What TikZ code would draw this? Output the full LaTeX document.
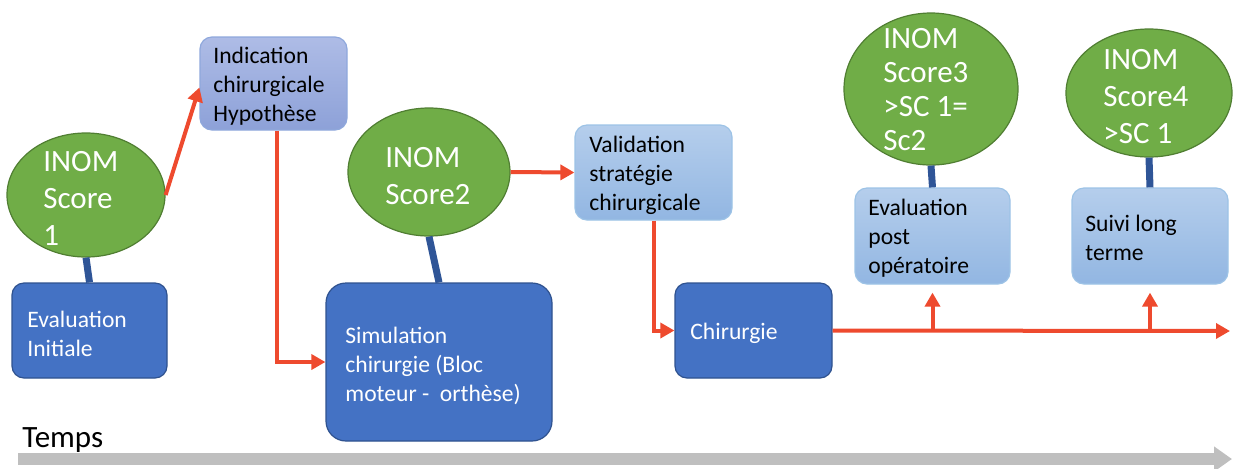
\documentclass[tikz,border=0pt]{standalone}
\usepackage{fontspec}
\setmainfont{Carlito}
\usetikzlibrary{arrows.meta,shapes.geometric}
\definecolor{gfill}{HTML}{70AD47}
\definecolor{gdraw}{HTML}{507E32}
\definecolor{dblue}{HTML}{4472C4}
\definecolor{dbluedraw}{HTML}{2F528F}
\definecolor{cblue}{HTML}{2F5597}
\definecolor{redc}{HTML}{EE4A2E}
\definecolor{lavtop}{HTML}{AEBCE6}
\definecolor{lavbot}{HTML}{8DA1D8}
\definecolor{lavdraw}{HTML}{8FA8DC}
\definecolor{lbtop}{HTML}{B5CEEC}
\definecolor{lbbot}{HTML}{92B6E2}
\definecolor{lbdraw}{HTML}{9DC3E6}
\definecolor{greyc}{HTML}{BFBFBF}
\tikzset{
  scoreell/.style={ellipse,draw=gdraw,line width=0.6pt,fill=gfill,inner sep=0pt},
  darkbox/.style={rectangle,rounded corners=6pt,draw=dbluedraw,line width=0.6pt,fill=dblue,inner sep=0pt},
  lavbox/.style={rectangle,rounded corners=6pt,draw=lavdraw,line width=0.6pt,top color=lavtop,bottom color=lavbot,inner sep=0pt},
  lightbox/.style={rectangle,rounded corners=6pt,draw=lbdraw,line width=0.6pt,top color=lbtop,bottom color=lbbot,inner sep=0pt},
  elltext/.style={anchor=west,inner sep=0pt,align=left,text=white,font=\fontsize{15.5pt}{18.5pt}\selectfont},
  boxtextw/.style={anchor=west,inner sep=0pt,align=left,text=white,font=\fontsize{11.8pt}{14.5pt}\selectfont},
  boxtextb/.style={anchor=west,inner sep=0pt,align=left,text=black,font=\fontsize{11.8pt}{14.5pt}\selectfont},
  redarrow/.style={draw=redc,line width=2pt,-{Triangle[length=7pt,width=7.5pt]}},
  blueconn/.style={draw=cblue,line width=3.5pt},
}
\begin{document}
\begin{tikzpicture}[x=0.5pt,y=-0.5pt]
\useasboundingbox (0,0) rectangle (1233,468);
% ellipses
\node[scoreell,minimum width=79pt,minimum height=62pt] (e1) at (86,195) {};
\node[scoreell,minimum width=81pt,minimum height=64pt] (e2) at (429,172) {};
\node[scoreell,minimum width=87pt,minimum height=76pt] (e3) at (931,89) {};
\node[scoreell,minimum width=83pt,minimum height=64pt] (e4) at (1149,93) {};
% boxes
\node[darkbox,minimum width=77.5pt,minimum height=47.5pt] (b1) at (89.5,330.5) {};
\node[lavbox,minimum width=73.5pt,minimum height=46.5pt] (ind) at (273.5,83.5) {};
\node[darkbox,rounded corners=10pt,minimum width=113pt,minimum height=79pt] (sim) at (439,362) {};
\node[lightbox,minimum width=78.5pt,minimum height=47.5pt] (val) at (653.5,172.5) {};
\node[darkbox,minimum width=78.5pt,minimum height=47.5pt] (chir) at (753.5,330.5) {};
\node[lightbox,minimum width=77.5pt,minimum height=48pt] (post) at (932.5,236) {};
\node[lightbox,minimum width=78pt,minimum height=48pt] (suivi) at (1150,236) {};
% texts
\node[elltext] (te1) at (43,198) {INOM\\Score\\1};
\node[elltext] (te2) at (385,176) {INOM\\Score2};
\node[elltext,font=\fontsize{15.5pt}{17pt}\selectfont] (te3) at (883,90) {INOM\\Score3\\>SC 1=\\Sc2};
\node[elltext] (te4) at (1103,97) {INOM\\Score4\\>SC 1};
\node[boxtextw] (tb1) at (27,334) {Evaluation\\Initiale};
\node[boxtextb] (tind) at (213,86) {Indication\\chirurgicale\\Hypothèse};
\node[boxtextw] (tsim) at (345,366) {Simulation\\chirurgie (Bloc\\moteur -~ orthèse)};
\node[boxtextb] (tval) at (589,175) {Validation\\stratégie\\chirurgicale};
\node[boxtextw] (tchir) at (690,333) {Chirurgie};
\node[boxtextb] (tpost) at (868,238) {Evaluation\\post\\opératoire};
\node[boxtextb] (tsuivi) at (1085,238) {Suivi long\\terme};
\node[anchor=west,inner sep=0pt,font=\fontsize{15.5pt}{17pt}\selectfont] (temps) at (22,440) {Temps};
% blue connectors
\draw[blueconn] (e1.south) -- (b1.north);
\draw[blueconn] (e2.south) -- (sim.north);
\draw[blueconn] (e3.south) -- (post.north);
\draw[blueconn] (e4.south) -- (suivi.north);
% red connectors
\draw[redarrow] (e1.east) -- ([yshift=-2pt]ind.west);
\draw[redarrow] ([xshift=1.5pt]ind.south) |- (sim.west);
\draw[redarrow] (e2.east) -- (val.west);
\draw[redarrow] (val.south) |- (chir.west);
\coordinate (tend) at (1230,331);
\draw[redarrow] (chir.east) -- (tend);
\draw[redarrow] (post.south |- chir.east) -- ([yshift=-4pt]post.south);
\draw[redarrow] (suivi.south |- chir.east) -- ([yshift=-4pt]suivi.south);
% time arrow
\coordinate (t0) at (18,459);
\coordinate (t1) at (1232,459);
\draw[draw=greyc,line width=6pt,-{Triangle[length=9pt,width=12pt]}] (t0) -- (t1);
\end{tikzpicture}
\end{document}
